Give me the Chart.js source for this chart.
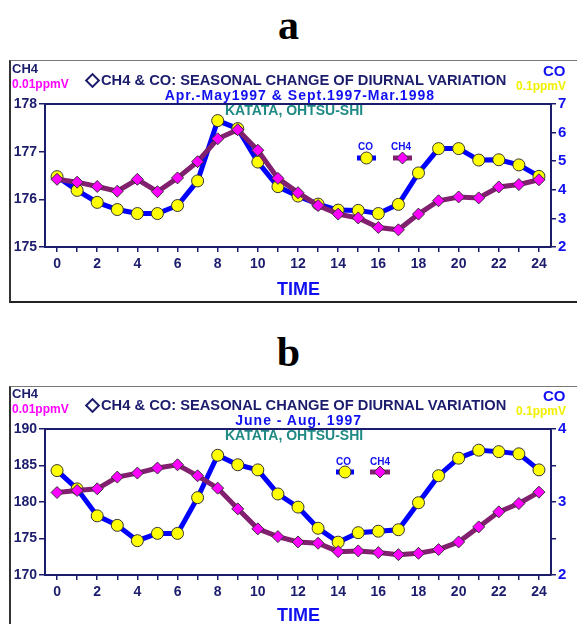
<!DOCTYPE html>
<html><head><meta charset="utf-8">
<script src="https://cdn.jsdelivr.net/npm/chart.js@4.4.0/dist/chart.umd.min.js"></script>
<style>
html,body{margin:0;padding:0;background:#fff;width:577px;height:624px;overflow:hidden;position:relative;font-family:"Liberation Sans",Arial,sans-serif;}
.t{position:absolute;white-space:nowrap;font-weight:bold;line-height:1;}
.box{position:absolute;left:9px;width:620px;border-left:2px solid #333;border-top:1px solid #777;border-bottom:2px solid #222;}
canvas{position:absolute;left:0;}
.letter{position:absolute;left:0;width:577px;text-align:center;font-family:"Liberation Serif","Times New Roman",serif;font-weight:bold;font-size:42px;line-height:1;}
.navy{color:#1c1c6c}.blue{color:#1010f0}.teal{color:#1f8a84}.mag{color:#ff00ff}.yel{color:#f0f000}
.dia{display:inline-block;width:7px;height:7px;border:2px solid #1c1c6c;transform:rotate(45deg);margin:0 3px 1px 2px;vertical-align:middle;}
</style></head><body>
<div class="letter" style="top:4px">a</div>
<div class="letter" style="top:331px">b</div>
<div class="box" style="top:60px;height:240px"></div>
<div class="box" style="top:386px;height:260px"></div>
<canvas id="ca" width="577" height="241" style="top:60px"></canvas>
<canvas id="cb" width="577" height="238" style="top:386px"></canvas>

<!-- panel a texts -->
<div class="t navy" style="left:12px;top:62px;font-size:13px">CH4</div>
<div class="t mag" style="left:12px;top:78px;font-size:12px">0.01ppmV</div>
<div class="t navy" style="left:85px;top:73px;font-size:14.7px"><span class="dia"></span>CH4 &amp; CO: SEASONAL CHANGE OF DIURNAL VARIATION</div>
<div class="t blue" style="right:142px;top:88px;font-size:14px;letter-spacing:1px">Apr.-May1997 &amp; Sept.1997-Mar.1998</div>
<div class="t teal" style="left:225px;top:103px;font-size:14px">KATATA, OHTSU-SHI</div>
<div class="t blue" style="left:543px;top:63px;font-size:15px">CO</div>
<div class="t yel" style="left:516px;top:80px;font-size:12px">0.1ppmV</div>
<div class="t blue" style="left:277px;top:280px;font-size:18px">TIME</div>
<div class="t blue" style="left:358px;top:142px;font-size:10px">CO</div>
<div class="t blue" style="left:391px;top:142px;font-size:10px">CH4</div>

<!-- panel b texts -->
<div class="t navy" style="left:12px;top:387px;font-size:13px">CH4</div>
<div class="t mag" style="left:12px;top:403px;font-size:12px">0.01ppmV</div>
<div class="t navy" style="left:85px;top:398px;font-size:14.7px"><span class="dia"></span>CH4 &amp; CO: SEASONAL CHANGE OF DIURNAL VARIATION</div>
<div class="t blue" style="right:215px;top:413px;font-size:14px;letter-spacing:1px">June - Aug. 1997</div>
<div class="t teal" style="left:225px;top:428px;font-size:14px">KATATA, OHTSU-SHI</div>
<div class="t blue" style="left:543px;top:388px;font-size:15px">CO</div>
<div class="t yel" style="left:516px;top:405px;font-size:12px">0.1ppmV</div>
<div class="t blue" style="left:277px;top:606px;font-size:18px">TIME</div>
<div class="t blue" style="left:336px;top:457px;font-size:10px">CO</div>
<div class="t blue" style="left:370px;top:457px;font-size:10px">CH4</div>

<script>
const hours = [0,1,2,3,4,5,6,7,8,9,10,11,12,13,14,15,16,17,18,19,20,21,22,23,24];

// Panel a: Apr.-May 1997 & Sept.1997-Mar.1998
const ch4A = [176.42,176.36,176.27,176.17,176.42,176.16,176.45,176.79,177.27,177.46,177.03,176.44,176.14,175.87,175.69,175.61,175.41,175.36,175.69,175.97,176.05,176.03,176.26,176.31,176.41];
const coA  = [4.46,3.98,3.56,3.31,3.17,3.17,3.45,4.31,6.42,6.14,4.97,4.11,3.78,3.50,3.29,3.28,3.17,3.49,4.59,5.44,5.44,5.04,5.05,4.87,4.47];
const ch4TicksA = [175,176,177,178];
const coTicksA = [2,3,4,5,6,7];

// Panel b: June - Aug. 1997
const ch4B = [181.30,181.58,181.81,183.41,183.96,184.65,185.10,183.59,181.90,179.06,176.32,175.26,174.53,174.35,173.20,173.30,173.07,172.79,172.97,173.48,174.53,176.59,178.65,179.79,181.35];
const coB  = [3.43,3.18,2.81,2.68,2.47,2.57,2.57,3.06,3.64,3.51,3.44,3.11,2.93,2.64,2.45,2.58,2.60,2.62,2.99,3.36,3.60,3.71,3.69,3.66,3.44];
const ch4TicksB = [170,175,180,185,190];
const coTicksB = [2,2.5,3,3.5,4];

const NAVY = '#1c1c6c', BLUE = '#0000ff', PURPLE = '#80206e';
const FAM = '"Liberation Sans", Arial, sans-serif';

function legendPlugin(ly, coX, ch4X){
  return {
    id: 'frameLegend',
    afterDraw(chart){
      const ctx = chart.ctx, a = chart.chartArea;
      ctx.save();
      ctx.strokeStyle = NAVY; ctx.lineWidth = 2;
      ctx.beginPath(); ctx.moveTo(a.left, a.top); ctx.lineTo(a.right, a.top); ctx.stroke();
      // legend CO
      ctx.lineWidth = 5; ctx.strokeStyle = BLUE;
      ctx.beginPath(); ctx.moveTo(coX[0], ly); ctx.lineTo(coX[1], ly); ctx.stroke();
      ctx.beginPath(); ctx.arc((coX[0]+coX[1])/2, ly, 6, 0, Math.PI*2);
      ctx.fillStyle = '#ffff00'; ctx.fill(); ctx.lineWidth = 1; ctx.strokeStyle = '#333'; ctx.stroke();
      // legend CH4
      ctx.lineWidth = 5; ctx.strokeStyle = PURPLE;
      ctx.beginPath(); ctx.moveTo(ch4X[0], ly); ctx.lineTo(ch4X[1], ly); ctx.stroke();
      const cx = (ch4X[0]+ch4X[1])/2, r = 6;
      ctx.beginPath(); ctx.moveTo(cx, ly-r); ctx.lineTo(cx+r, ly); ctx.lineTo(cx, ly+r); ctx.lineTo(cx-r, ly); ctx.closePath();
      ctx.fillStyle = '#ff00ff'; ctx.fill(); ctx.lineWidth = 1; ctx.strokeStyle = '#333'; ctx.stroke();
      ctx.restore();
    }
  };
}

function makeChart(id, ch4, co, ch4Ticks, coTicks, ch4Min, ch4Max, coMin, coMax, padTop, xH, plug){
  return new Chart(document.getElementById(id), {
    type: 'line',
    data: {
      datasets: [
        { label: 'CH4', yAxisID: 'y', order: 0,
          data: hours.map((h,i)=>({x:h, y:ch4[i]})),
          borderColor: PURPLE, borderWidth: 5, tension: 0,
          pointStyle: 'rectRot', pointRadius: 6, pointBackgroundColor: '#ff00ff',
          pointBorderColor: '#333', pointBorderWidth: 1 },
        { label: 'CO', yAxisID: 'y2', order: 1,
          data: hours.map((h,i)=>({x:h, y:co[i]})),
          borderColor: BLUE, borderWidth: 5, tension: 0,
          pointStyle: 'circle', pointRadius: 6, pointBackgroundColor: '#ffff00',
          pointBorderColor: '#333', pointBorderWidth: 1 }
      ]
    },
    options: {
      responsive: false, animation: false, events: [],
      layout: { padding: { top: padTop, left: 0, right: 0, bottom: 0 } },
      plugins: { legend: { display: false }, tooltip: { enabled: false } },
      scales: {
        x: { type: 'linear', min: -0.6, max: 24.6,
          afterBuildTicks: s => { s.ticks = hours.map(v=>({value:v})); },
          afterFit: s => { s.height = xH; },
          grid: { drawOnChartArea: false, drawTicks: true, tickLength: 5, color: NAVY, lineWidth: 1.5 },
          border: { color: NAVY, width: 2 },
          ticks: { color: NAVY, font: { family: FAM, size: 14, weight: 'bold' }, padding: 4,
                   maxRotation: 0, autoSkip: false, callback: v => (v % 2 === 0 ? String(v) : '') } },
        y: { position: 'left', min: ch4Min, max: ch4Max,
          afterBuildTicks: s => { s.ticks = ch4Ticks.map(v=>({value:v})); },
          afterFit: s => { s.width = 45; },
          grid: { drawOnChartArea: false, drawTicks: true, tickLength: 6, color: NAVY, lineWidth: 1.5 },
          border: { color: NAVY, width: 2 },
          ticks: { color: NAVY, font: { family: FAM, size: 14, weight: 'bold' }, padding: 2 } },
        y2: { position: 'right', min: coMin, max: coMax,
          afterBuildTicks: s => { s.ticks = coTicks.map(v=>({value:v})); },
          afterFit: s => { s.width = 26; },
          grid: { drawOnChartArea: false, drawTicks: true, tickLength: 5, color: NAVY, lineWidth: 1.5 },
          border: { color: NAVY, width: 2 },
          ticks: { color: '#1010f0', font: { family: FAM, size: 15, weight: 'bold' }, padding: 2,
                   callback: v => (Number.isInteger(v) ? String(v) : '') } }
      }
    },
    plugins: [plug]
  });
}

makeChart('ca', ch4A, coA, ch4TicksA, coTicksA, 175, 178, 2, 7, 44, 54, legendPlugin(98, [357,376], [393,412]));
makeChart('cb', ch4B, coB, ch4TicksB, coTicksB, 170, 190, 2, 4, 43, 49, legendPlugin(86, [336,354], [370,390]));
</script>
</body></html>
